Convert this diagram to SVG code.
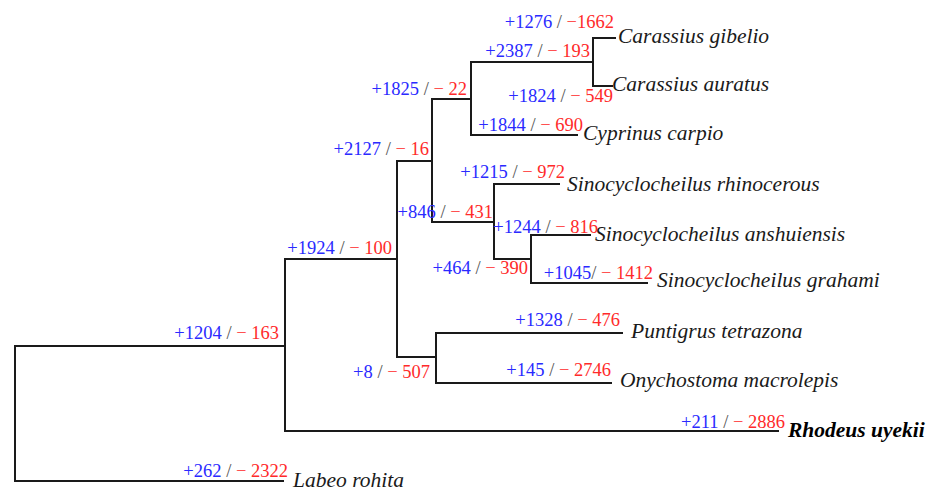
<svg xmlns="http://www.w3.org/2000/svg" width="935" height="491" viewBox="0 0 935 491">
  <style>
    .br { fill: none; stroke: #1a1a1a; stroke-width: 2; stroke-linejoin: miter; stroke-linecap: square; }
    .gl { font-family: "Liberation Serif", "Times New Roman", serif; font-size: 18.5px; text-anchor: end; fill: #555; }
    .gain { fill: #2a2aff; }
    .loss { fill: #ff2a2a; }
    .sp { font-family: "Liberation Serif", "Times New Roman", serif; font-size: 21.5px; font-style: italic; fill: #1a1a1a; }
    .focal { font-weight: bold; fill: #000; }
  </style>
  <rect width="935" height="491" fill="#fff"/>

  <!-- branches (elbow connectors, one per internal node) -->
  <g id="branches">
    <path class="br" d="M285,346 H15 V481 H283"/>
    <path class="br" d="M397,259 H285 V431 H778"/>
    <path class="br" d="M432,161 H397 V357 H436"/>
    <path class="br" d="M622,333 H436 V383 H611"/>
    <path class="br" d="M471,99 H432 V222 H494"/>
    <path class="br" d="M593,62 H471 V135 H577"/>
    <path class="br" d="M615,38 H593 V86 H612"/>
    <path class="br" d="M559,184 H494 V259 H531"/>
    <path class="br" d="M590,235 H531 V283 H647"/>
  </g>

  <!-- gene family gain / loss counts per branch -->
  <g id="counts">
    <g id="n-root-ingroup"><text class="gl" x="279" y="339"><tspan class="gain">+1204</tspan> / <tspan class="loss">− 163</tspan></text></g>
    <g id="n-1924"><text class="gl" x="392" y="254"><tspan class="gain">+1924</tspan> / <tspan class="loss">− 100</tspan></text></g>
    <g id="n-2127"><text class="gl" x="429" y="155"><tspan class="gain">+2127</tspan> / <tspan class="loss">− 16</tspan></text></g>
    <g id="n-1825"><text class="gl" x="467" y="95"><tspan class="gain">+1825</tspan> / <tspan class="loss">− 22</tspan></text></g>
    <g id="n-2387"><text class="gl" x="590" y="57"><tspan class="gain">+2387</tspan> / <tspan class="loss">− 193</tspan></text></g>
    <g id="n-1276"><text class="gl" x="614" y="28"><tspan class="gain">+1276</tspan> / <tspan class="loss">−1662</tspan></text></g>
    <g id="n-1824"><text class="gl" x="613" y="102"><tspan class="gain">+1824</tspan> / <tspan class="loss">− 549</tspan></text></g>
    <g id="n-1844"><text class="gl" x="583" y="131"><tspan class="gain">+1844</tspan> / <tspan class="loss">− 690</tspan></text></g>
    <g id="n-846"><text class="gl" x="493" y="218"><tspan class="gain">+846</tspan> / <tspan class="loss">− 431</tspan></text></g>
    <g id="n-1215"><text class="gl" x="565" y="178"><tspan class="gain">+1215</tspan> / <tspan class="loss">− 972</tspan></text></g>
    <g id="n-464"><text class="gl" x="528" y="274"><tspan class="gain">+464</tspan> / <tspan class="loss">− 390</tspan></text></g>
    <g id="n-1244"><text class="gl" x="598" y="233"><tspan class="gain">+1244</tspan> / <tspan class="loss">− 816</tspan></text></g>
    <g id="n-1045"><text class="gl" x="653" y="279"><tspan class="gain">+1045</tspan>/ <tspan class="loss">− 1412</tspan></text></g>
    <g id="n-8"><text class="gl" x="430" y="378"><tspan class="gain">+8</tspan> / <tspan class="loss">− 507</tspan></text></g>
    <g id="n-1328"><text class="gl" x="620" y="326"><tspan class="gain">+1328</tspan> / <tspan class="loss">− 476</tspan></text></g>
    <g id="n-145"><text class="gl" x="611" y="376"><tspan class="gain">+145</tspan> / <tspan class="loss">− 2746</tspan></text></g>
    <g id="n-211"><text class="gl" x="785" y="428"><tspan class="gain">+211</tspan> / <tspan class="loss">− 2886</tspan></text></g>
    <g id="n-262"><text class="gl" x="288" y="477"><tspan class="gain">+262</tspan> / <tspan class="loss">− 2322</tspan></text></g>
  </g>

  <!-- species tips -->
  <g id="tip-carassius-gibelio"><text class="sp" x="618" y="43">Carassius gibelio</text></g>
  <g id="tip-carassius-auratus"><text class="sp" x="612" y="91">Carassius auratus</text></g>
  <g id="tip-cyprinus-carpio"><text class="sp" x="583" y="140">Cyprinus carpio</text></g>
  <g id="tip-sinocyclocheilus-rhinocerous"><text class="sp" x="567" y="191">Sinocyclocheilus rhinocerous</text></g>
  <g id="tip-sinocyclocheilus-anshuiensis"><text class="sp" x="595" y="241">Sinocyclocheilus anshuiensis</text></g>
  <g id="tip-sinocyclocheilus-grahami"><text class="sp" x="657" y="287">Sinocyclocheilus grahami</text></g>
  <g id="tip-puntigrus-tetrazona"><text class="sp" x="631" y="338">Puntigrus tetrazona</text></g>
  <g id="tip-onychostoma-macrolepis"><text class="sp" x="620" y="387">Onychostoma macrolepis</text></g>
  <g id="tip-rhodeus-uyekii"><text class="sp focal" x="788" y="437">Rhodeus uyekii</text></g>
  <g id="tip-labeo-rohita"><text class="sp" x="293" y="487">Labeo rohita</text></g>
</svg>
